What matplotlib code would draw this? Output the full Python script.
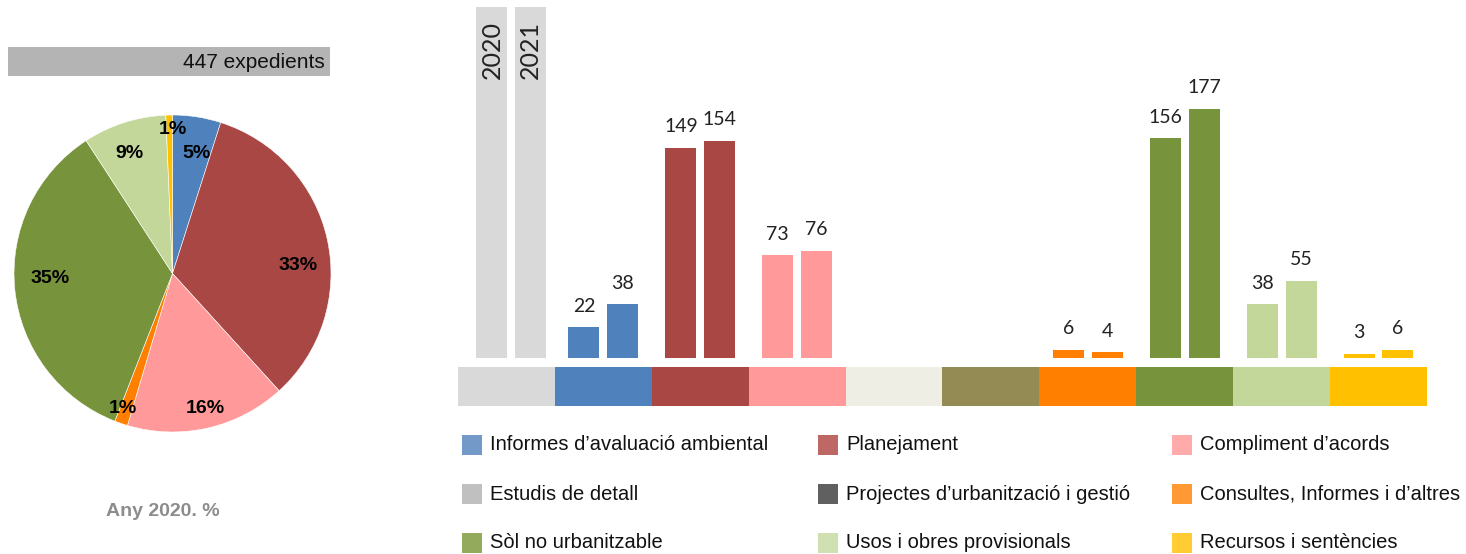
import matplotlib
matplotlib.use('Agg')
import matplotlib.pyplot as plt
from matplotlib.patches import Rectangle

# data
categories = ["Informes d’avaluació ambiental", "Planejament", "Compliment d’acords",
              "Estudis de detall", "Projectes d’urbanització i gestió",
              "Consultes, Informes i d’altres", "Sòl no urbanitzable",
              "Usos i obres provisionals", "Recursos i sentències"]
values_2020 = [22, 149, 73, 0, 0, 6, 156, 38, 3]
values_2021 = [38, 154, 76, 0, 0, 4, 177, 55, 6]
years = ["2020", "2021"]
total_label = "447 expedients"
pie_title = "Any 2020. %"

# colours
bar_colors = ['#4f81bd', '#a94745', '#ff999a', '#eeeee4', '#948a54',
              '#ff8000', '#77933c', '#c4d79b', '#ffc000']
header_color = '#d9d9d9'
legend_colors = ['#7399c9', '#be6866', '#ffabab', '#c0c0c0', '#606060',
                 '#ff9933', '#93aa5d', '#d0e0b0', '#ffcc33']

W, H = 1466, 554
fig = plt.figure(figsize=(W / 100, H / 100), dpi=100)


def fx(px):
    return px / W


def fy(py):
    return 1 - py / H


# ---- pie (2020) ----
pie_vals = [v for v in values_2020 if v > 0]
pie_cols = [c for v, c in zip(values_2020, bar_colors) if v > 0]
total = sum(pie_vals)
axp = fig.add_axes([fx(14), fy(432), 317 / W, 317 / H])
axp.pie(pie_vals, colors=pie_cols, startangle=90, counterclock=False,
        wedgeprops=dict(edgecolor='white', linewidth=0.4))
axp.set_xlim(-1, 1)
axp.set_ylim(-1, 1)
# label positions (in pie radius units)
label_pos = [(0.15, 0.755), (0.79, 0.05), (0.21, -0.85), (-0.31, -0.85),
             (-0.77, -0.03), (-0.27, 0.76), (0.0, 0.91)]
for v, (x, y) in zip(pie_vals, label_pos):
    axp.text(x, y, f"{round(100 * v / total)}%", ha='center', va='center',
             fontsize=14, fontweight='bold', family='Liberation Sans', color='black')

fig.add_artist(Rectangle((fx(8), fy(76)), fx(330) - fx(8), fy(47) - fy(76),
                         transform=fig.transFigure, color='#b4b4b4', lw=0))
fig.text(fx(325), fy(62), total_label, ha='right', va='center', fontsize=15,
         family='Liberation Sans', color='#111111')
fig.text(fx(163), fy(511), pie_title, ha='center', va='center', fontsize=14,
         fontweight='bold', family='Liberation Sans', color='#8c8c8c')

# ---- bars ----
ax = fig.add_axes([fx(458), fy(406), fx(1427) - fx(458), fy(7) - fy(406)])
ymin, ymax = -34, 249
ax.set_xlim(-0.5, 9.5)
ax.set_ylim(ymin, ymax)
ax.axis('off')

bw, off = 0.32, 0.2
# header slot with the years
for k, yr in enumerate(years):
    xc = 0 + (2 * k - 1) * off + 0.05
    ax.bar(xc, ymax, width=bw, color=header_color, lw=0)
    ax.text(xc, ymax - 10, yr, rotation=90, ha='center', va='top',
            fontsize=18, family='Lato', color='#222222')

xs = list(range(1, len(categories) + 1))
for x, a, b, c in zip(xs, values_2020, values_2021, bar_colors):
    for xc, v in ((x - off, a), (x + off, b)):
        if v > 0:
            ax.bar(xc, v, width=bw, color=c, lw=0)
            ax.annotate(str(v), (xc, v), xytext=(0, 9), textcoords='offset points',
                        ha='center', va='bottom', fontsize=14, family='Lato',
                        color='#222222')

# colour strip below the bars
strip_cols = [header_color] + bar_colors
ax.bar(range(10), -27.6, bottom=-6.4, width=1.0, color=strip_cols, lw=0)

# ---- legend ----
cols_x = [462, 818, 1172]
rows_y = [445, 494, 543]
for i, (name, c) in enumerate(zip(categories, legend_colors)):
    r, k = divmod(i, 3)
    x0, y0 = cols_x[k], rows_y[r]
    fig.add_artist(Rectangle((fx(x0), fy(y0 + 10)), 20 / W, 20 / H,
                             transform=fig.transFigure, color=c, lw=0))
    fig.text(fx(x0 + 28), fy(y0), name, ha='left', va='center', fontsize=14.5,
             family='Liberation Sans', color='#111111')

fig.savefig('out.png', dpi=100)
